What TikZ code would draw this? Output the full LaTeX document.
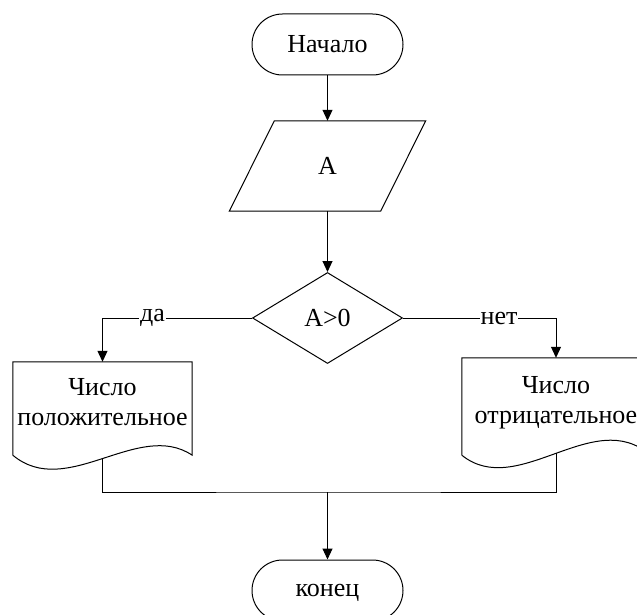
\documentclass[tikz,border=0pt]{standalone}
\usepackage{fontspec}
\setmainfont{Liberation Serif}
\usetikzlibrary{arrows.meta,shapes.geometric}
\begin{document}
\begin{tikzpicture}[x=1pt,y=-1pt,
  every node/.style={font=\fontsize{26}{30}\selectfont},
  line/.style={draw, line width=1pt},
  arr/.style={line, -{Triangle[length=11pt,width=10pt]}},
  term/.style={draw, line width=1pt, rectangle, rounded corners=30.5pt, minimum width=151pt, minimum height=61pt, inner sep=0pt},
  iobox/.style={rectangle, minimum width=196pt, minimum height=90pt, inner sep=0pt},
  dec/.style={draw, line width=1pt, diamond, minimum width=150pt, minimum height=91pt, inner sep=0pt},
  docbox/.style={rectangle, align=center, inner sep=0pt, text depth=13pt},
  lbl/.style={fill=white, inner sep=1pt},
]
\useasboundingbox (0,0) rectangle (637,615);
\clip (0,0) rectangle (637,615);

\node[term] (start) at (327.5,44.5) {Начало};

\node[iobox] (io) at (327.5,166) {A};
\draw[line] ([xshift=45pt]io.north west) -- (io.north east) -- ([xshift=-45pt]io.south east) -- (io.south west) -- cycle;

\node[dec] (d) at (327.5,318) {A>0};

\node[docbox, minimum width=179pt, minimum height=93pt] (ld) at (102.5,408.5) {Число\\положительное};
\draw[line] (ld.south west) -- (ld.north west) -- (ld.north east) -- (ld.south east)
  .. controls +(-54,-36) and +(54,45) .. coordinate[pos=0.5] (lw) (ld.south west);

\node[docbox, minimum width=188pt, minimum height=97pt] (rd) at (556,406.5) {Число\\отрицательное};
\draw[line] (rd.south west) -- (rd.north west) -- (rd.north east) -- (rd.south east)
  .. controls +(-56,-50) and +(56,45) .. coordinate[pos=0.5] (rw) (rd.south west);

\node[term, text height=17pt] (e) at (327.5,590.5) {конец};

\coordinate (j) at (327.5,492);

\draw[arr] (start.south) -- (io.north);
\draw[arr] (io.south) -- (d.north);
\draw[arr] (d.west) -| node[lbl, pos=0.333] {да} (ld.north);
\draw[arr] (d.east) -| node[lbl, pos=0.314] {нет} (rd.north);
\draw[line] (lw) |- (j) -| (rw);
\draw[arr] (j) -- (e.north);
\end{tikzpicture}
\end{document}
